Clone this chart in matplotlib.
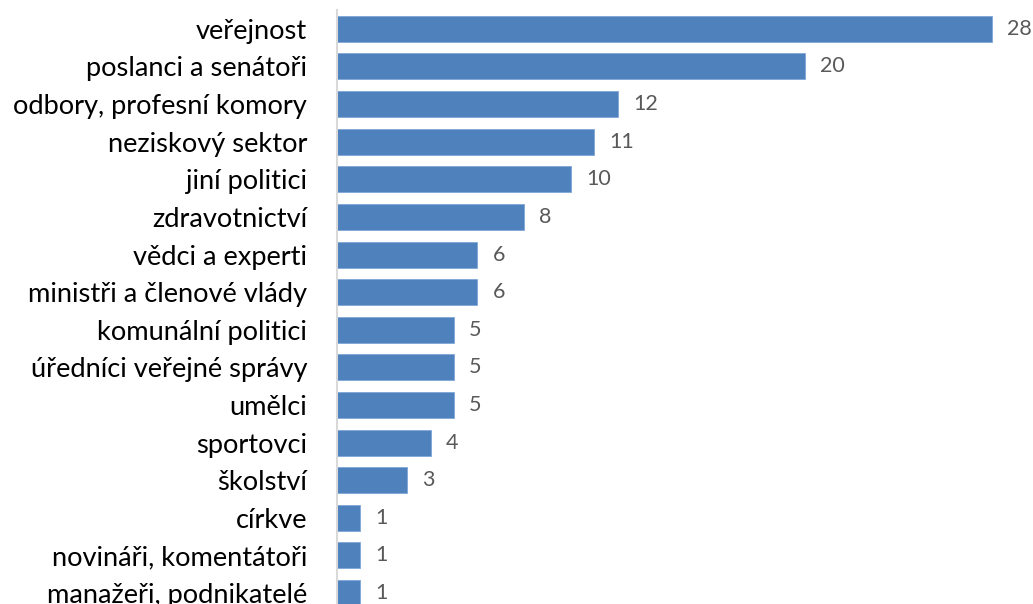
import matplotlib
matplotlib.use("Agg")
import matplotlib.pyplot as plt

categories = ["veřejnost", "poslanci a senátoři", "odbory, profesní komory",
              "neziskový sektor", "jiní politici", "zdravotnictví",
              "vědci a experti", "ministři a členové vlády", "komunální politici",
              "úředníci veřejné správy", "umělci", "sportovci", "školství",
              "církve", "novináři, komentátoři", "manažeři, podnikatelé"]
values = [28, 20, 12, 11, 10, 8, 6, 6, 5, 5, 5, 4, 3, 1, 1, 1]

plt.rcParams['font.family'] = ['Lato', 'DejaVu Sans']

W, H = 1033, 604
fig = plt.figure(figsize=(W / 100, H / 100), dpi=100)
x0 = 337 / W
ax = fig.add_axes([x0, 0, 1 - x0, 1 - 10 / H])

pos = list(range(len(categories)))
ax.barh(pos, values, height=0.69, color="#4F81BD", edgecolor="#7FA6D6", linewidth=0.6)

unit = 23.4
ax.set_xlim(0, (W - 337) / unit)
ax.set_ylim(15.29, -0.5)

for p, v in zip(pos, values):
    ax.text(v + 15 / unit, p, str(v), va="center", ha="left", fontsize=15.5, color="#595959")

ax.set_yticks(pos)
ax.set_yticklabels(categories, fontsize=19.6, color="#000000")
ax.tick_params(axis="y", length=0, pad=21.5)
ax.set_xticks([])
for s in ["top", "right", "bottom"]:
    ax.spines[s].set_visible(False)
ax.spines["left"].set_color("#D9D9D9")
ax.spines["left"].set_linewidth(1.5)

fig.savefig("out.png", dpi=100)
